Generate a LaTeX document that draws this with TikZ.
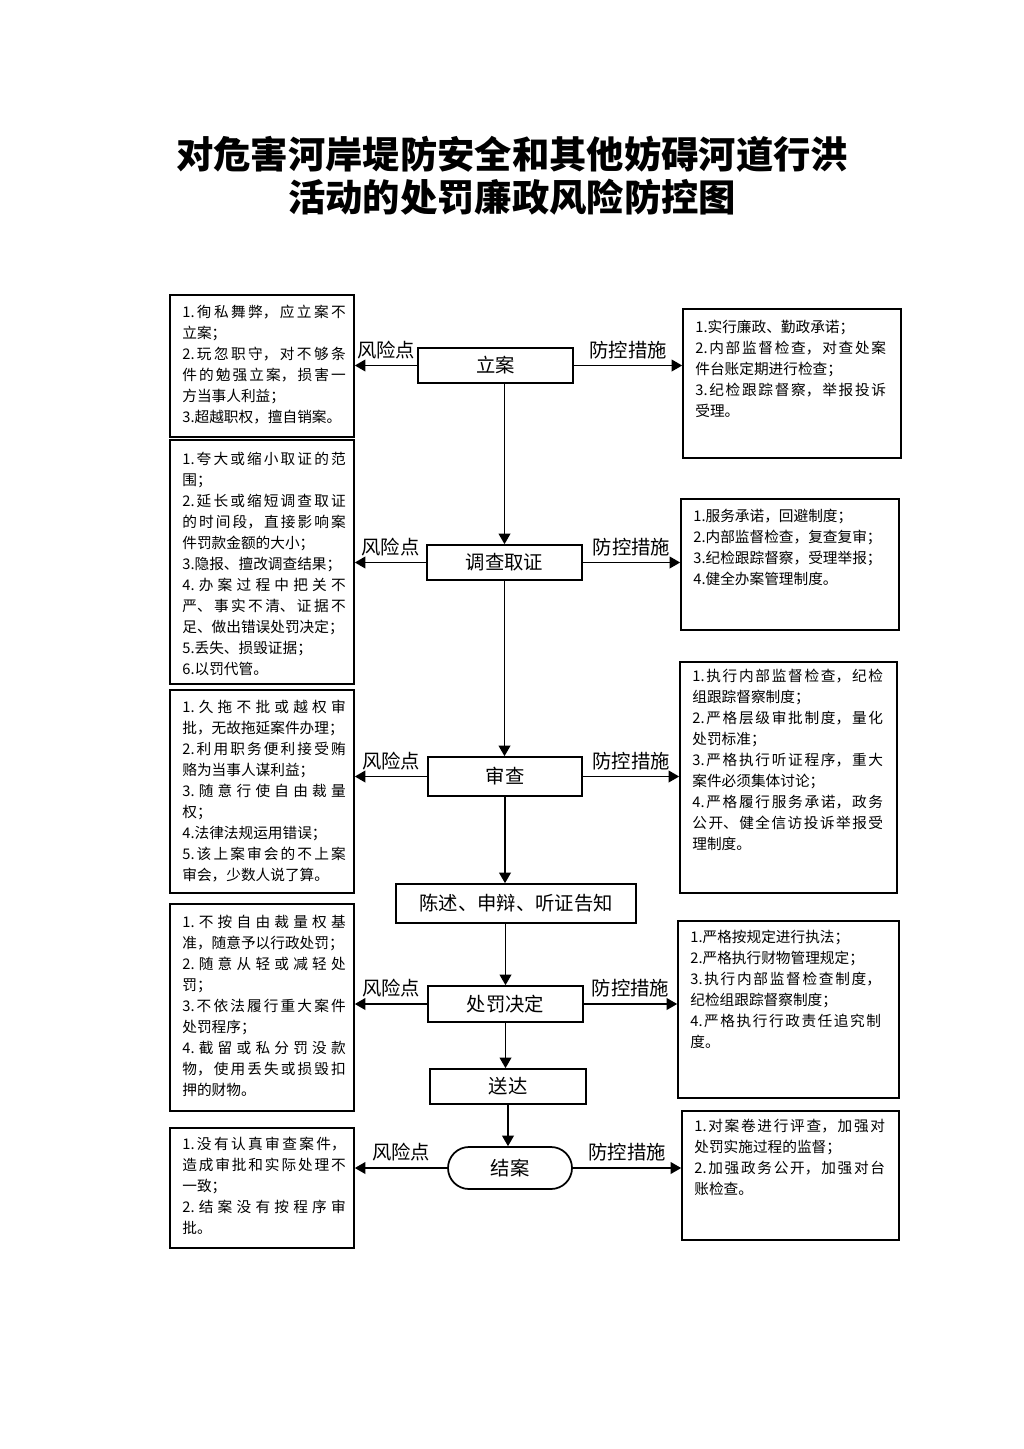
\documentclass[tikz,border=0pt]{standalone}
\usepackage{fontspec}
\setmainfont{Noto Sans CJK SC}
\usetikzlibrary{positioning, arrows, fit}
\XeTeXlinebreaklocale "zh"
\XeTeXlinebreakskip=0pt plus 1pt
\tolerance=10000
\hbadness=10000
\tikzset{
    stepbox/.style={draw, line width=1.3pt, inner sep=0pt, minimum width=116.25pt, minimum height=26.25pt, font=\fontsize{14.5}{17}\selectfont},
    listbox/.style={draw, line width=1.3pt, inner sep=0pt},
    listtext/.style={anchor=north west, inner sep=0pt, align=justify, font=\fontsize{11}{15.75}\selectfont},
    lefttext/.style={listtext, text width=122.5pt},
    righttext/.style={listtext, text width=143pt},
    flow/.style={draw, ->, >=triangle 60, line width=1.15pt},
    lbl/.style={above, inner sep=4.5pt, font=\fontsize{14.5}{17}\selectfont}
}
\begin{document}
\begin{tikzpicture}[x=0.75pt, y=-0.75pt]
        \useasboundingbox (0,0) rectangle (1024,1449);
        \node[font=\fontsize{28}{32.25}\selectfont\bfseries, align=center] (title) at (512,176) {对危害河岸堤防安全和其他妨碍河道行洪\\活动的处罚廉政风险防控图};

        \node[stepbox] (lian) at (495.5,365.5) {立案};
        \node[stepbox] (dcqz) at (504.5,562.5) {调查取证};
        \node[stepbox, minimum width=115.5pt, minimum height=29.25pt] (shencha) at (505,776.5) {审查};
        \node[stepbox, minimum width=180pt, minimum height=29.25pt] (chenshu) at (516,903.5) {陈述、申辩、听证告知};
        \node[stepbox, minimum height=27pt] (cfjd) at (505.5,1004) {处罚决定};
        \node[stepbox, minimum width=117pt] (songda) at (508,1086.5) {送达};
        \node[stepbox, rounded corners=15.75pt, minimum width=93pt, minimum height=31.5pt] (jiean) at (510,1168) {结案};

        \node[listbox, fit={(170,295) (354,437)}] (risk1) {};
        \node[listbox, fit={(170,440) (354,684)}] (risk2) {};
        \node[listbox, fit={(170,690) (354,893)}] (risk3) {};
        \node[listbox, fit={(170,904) (354,1111)}] (risk4) {};
        \node[listbox, fit={(170,1128) (354,1248)}] (risk5) {};
        \node[lefttext] (risk1t) at ([shift={(13,11)}]risk1.north west) {1.徇私舞弊，应立案不\linebreak 立案；\par 2.玩忽职守，对不够条\linebreak 件的勉强立案，损害一\linebreak 方当事人利益；\par 3.超越职权，擅自销案。};
        \node[lefttext] (risk2t) at ([shift={(13,13)}]risk2.north west) {1.夸大或缩小取证的范\linebreak 围；\par 2.延长或缩短调查取证\linebreak 的时间段，直接影响案\linebreak 件罚款金额的大小；\par 3.隐报、擅改调查结果；\par 4.办案过程中把关不\linebreak 严、事实不清、证据不\linebreak 足、做出错误处罚决定；\par 5.丢失、损毁证据；\par 6.以罚代管。};
        \node[lefttext] (risk3t) at ([shift={(13,11)}]risk3.north west) {1.久拖不批或越权审\linebreak 批，无故拖延案件办理；\par 2.利用职务便利接受贿\linebreak 赂为当事人谋利益；\par 3.随意行使自由裁量\linebreak 权；\par 4.法律法规运用错误；\par 5.该上案审会的不上案\linebreak 审会，少数人说了算。};
        \node[lefttext] (risk4t) at ([shift={(13,12)}]risk4.north west) {1.不按自由裁量权基\linebreak 准，随意予以行政处罚；\par 2.随意从轻或减轻处\linebreak 罚；\par 3.不依法履行重大案件\linebreak 处罚程序；\par 4.截留或私分罚没款\linebreak 物，使用丢失或损毁扣\linebreak 押的财物。};
        \node[lefttext] (risk5t) at ([shift={(13,10)}]risk5.north west) {1.没有认真审查案件，\linebreak 造成审批和实际处理不\linebreak 一致；\par 2.结案没有按程序审\linebreak 批。};

        \node[listbox, fit={(683,309) (901,458)}] (ctrl1) {};
        \node[listbox, fit={(681,499) (899,630)}] (ctrl2) {};
        \node[listbox, fit={(680,662) (897,893)}] (ctrl3) {};
        \node[listbox, fit={(678,921) (899,1098)}] (ctrl4) {};
        \node[listbox, fit={(682,1111) (899,1240)}] (ctrl5) {};
        \node[righttext] (ctrl1t) at ([shift={(13,12)}]ctrl1.north west) {1.实行廉政、勤政承诺；\par 2.内部监督检查，对查处案\linebreak 件台账定期进行检查；\par 3.纪检跟踪督察，举报投诉\linebreak 受理。};
        \node[righttext] (ctrl2t) at ([shift={(13,11)}]ctrl2.north west) {1.服务承诺，回避制度；\par 2.内部监督检查，复查复审；\par 3.纪检跟踪督察，受理举报；\par 4.健全办案管理制度。};
        \node[righttext] (ctrl3t) at ([shift={(13,8)}]ctrl3.north west) {1.执行内部监督检查，纪检\linebreak 组跟踪督察制度；\par 2.严格层级审批制度，量化\linebreak 处罚标准；\par 3.严格执行听证程序，重大\linebreak 案件必须集体讨论；\par 4.严格履行服务承诺，政务\linebreak 公开、健全信访投诉举报受\linebreak 理制度。};
        \node[righttext] (ctrl4t) at ([shift={(13,10)}]ctrl4.north west) {1.严格按规定进行执法；\par 2.严格执行财物管理规定；\par 3.执行内部监督检查制度，\linebreak 纪检组跟踪督察制度；\par 4.严格执行行政责任追究制\linebreak 度。};
        \node[righttext] (ctrl5t) at ([shift={(13,9)}]ctrl5.north west) {1.对案卷进行评查，加强对\linebreak 处罚实施过程的监督；\par 2.加强政务公开，加强对台\linebreak 账检查。};

        \draw[flow] (lian.west) -- node[lbl] (lbl1) {风险点} (lian.west -| risk1.east);
        \draw[flow] (lian.east) -- node[lbl] (lbr1) {防控措施} (lian.east -| ctrl1.west);
        \draw[flow] (dcqz.west) -- node[lbl] (lbl2) {风险点} (dcqz.west -| risk2.east);
        \draw[flow] (dcqz.east) -- node[lbl] (lbr2) {防控措施} (dcqz.east -| ctrl2.west);
        \draw[flow] (shencha.west) -- node[lbl] (lbl3) {风险点} (shencha.west -| risk3.east);
        \draw[flow] (shencha.east) -- node[lbl] (lbr3) {防控措施} (shencha.east -| ctrl3.west);
        \draw[flow] (cfjd.west) -- node[lbl] (lbl4) {风险点} (cfjd.west -| risk4.east);
        \draw[flow] (cfjd.east) -- node[lbl] (lbr4) {防控措施} (cfjd.east -| ctrl4.west);
        \draw[flow] (jiean.west) -- node[lbl] (lbl5) {风险点} (jiean.west -| risk5.east);
        \draw[flow] (jiean.east) -- node[lbl] (lbr5) {防控措施} (jiean.east -| ctrl5.west);

        \draw[flow] (lian.south -| dcqz.north) -- (dcqz.north);
        \draw[flow] (dcqz.south) -- (dcqz.south |- shencha.north);
        \draw[flow] (shencha.south) -- (shencha.south |- chenshu.north);
        \draw[flow] (cfjd.north |- chenshu.south) -- (cfjd.north);
        \draw[flow] (cfjd.south) -- (cfjd.south |- songda.north);
        \draw[flow] (songda.south) -- (songda.south |- jiean.north);
    \end{tikzpicture}
\end{document}
